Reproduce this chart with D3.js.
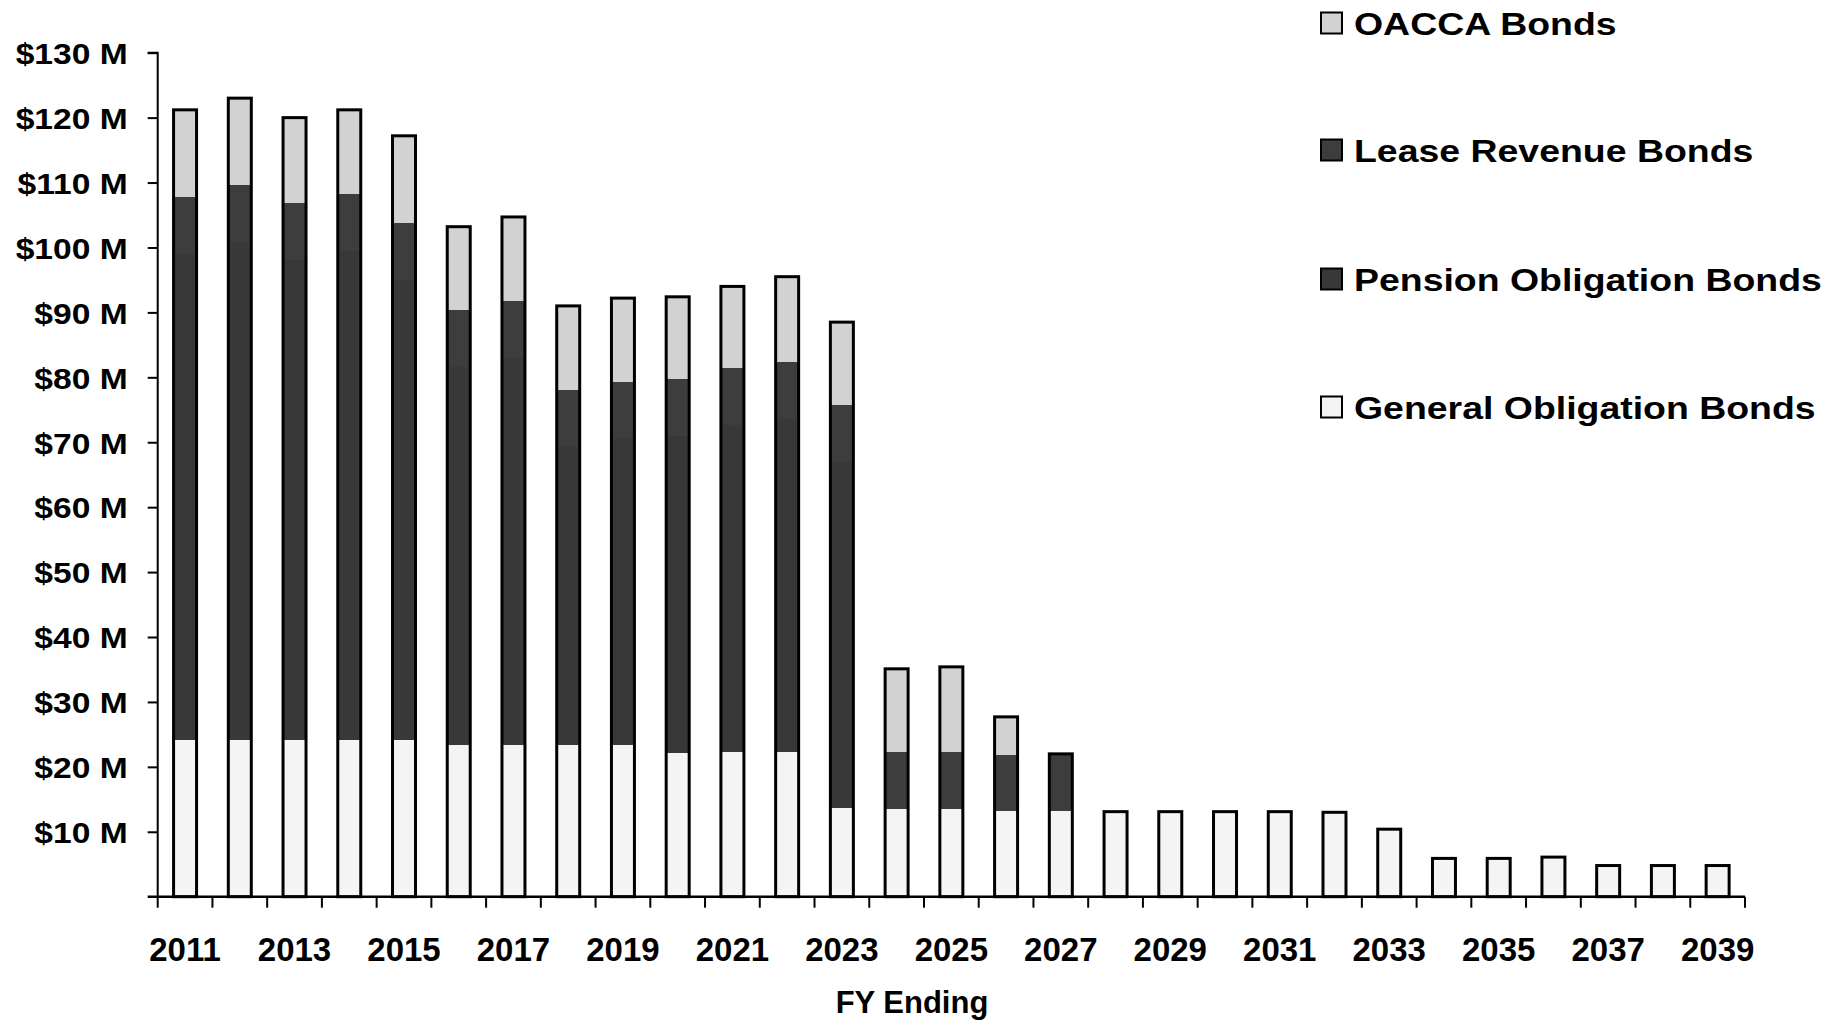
<!DOCTYPE html>
<html>
<head>
<meta charset="utf-8">
<script src="https://cdn.jsdelivr.net/npm/d3@7/dist/d3.min.js"></script>
<style>
  body { margin: 0; background: #fff; }
  svg { display: block; font-family: "Liberation Sans", Arial, sans-serif; font-weight: bold; }
</style>
</head>
<body>
<script>
// FY ending years
const years = [2011, 2012, 2013, 2014, 2015, 2016, 2017, 2018, 2019, 2020,
  2021, 2022, 2023, 2024, 2025, 2026, 2027, 2028, 2029, 2030,
  2031, 2032, 2033, 2034, 2035, 2036, 2037, 2038, 2039];

// debt service, $ millions
const generalObligation = [24.1, 24.1, 24.1, 24.1, 24.1, 23.4, 23.4, 23.4, 23.4, 22.1,
  22.3, 22.3, 13.6, 13.5, 13.5, 13.2, 13.2, 13.1, 13.1, 13.1,
  13.1, 13.0, 10.4, 5.9, 5.9, 6.1, 4.8, 4.8, 4.8];
const pensionObligation = [74.9, 76.7, 74.0, 75.4, 70.9, 58.2, 59.6, 45.8, 47.1, 48.8,
  50.3, 51.3, 53.3, 0, 0, 0, 0, 0, 0, 0,
  0, 0, 0, 0, 0, 0, 0, 0, 0];
const leaseRevenue = [8.8, 8.8, 8.8, 8.8, 8.8, 8.8, 8.8, 8.8, 8.8, 8.8,
  8.8, 8.8, 8.8, 8.8, 8.8, 8.6, 8.8, 0, 0, 0,
  0, 0, 0, 0, 0, 0, 0, 0, 0];
const oacca = [13.4, 13.4, 13.1, 12.9, 13.4, 12.8, 12.9, 13.0, 12.9, 12.7,
  12.6, 13.1, 12.8, 12.8, 13.1, 5.9, 0, 0, 0, 0,
  0, 0, 0, 0, 0, 0, 0, 0, 0];

// stack order bottom -> top, legend shows it top -> bottom
const seriesNames = ["General Obligation Bonds", "Pension Obligation Bonds", "Lease Revenue Bonds", "OACCA Bonds"];
const yTicks = [10, 20, 30, 40, 50, 60, 70, 80, 90, 100, 110, 120, 130];

const canvass = { width: 1840, height: 1022 };
const plot = { left: 157.7, right: 1745, top: 52.7, bottom: 896.7 };
const fills = {
  "General Obligation Bonds": "#f4f4f4",
  "Pension Obligation Bonds": "#383838",
  "Lease Revenue Bonds": "#3d3d3d",
  "OACCA Bonds": "#d2d2d2",
};

const rows = years.map((y, i) => ({
  year: y,
  "General Obligation Bonds": generalObligation[i],
  "Pension Obligation Bonds": pensionObligation[i],
  "Lease Revenue Bonds": leaseRevenue[i],
  "OACCA Bonds": oacca[i],
}));

const svg = d3.select("body").append("svg")
  .attr("width", canvass.width)
  .attr("height", canvass.height);

const xScale = d3.scaleBand()
  .domain(years)
  .range([plot.left, plot.right])
  .paddingInner(0.58)
  .paddingOuter(0.29);

const yScale = d3.scaleLinear()
  .domain([0, 130])
  .range([plot.bottom, plot.top]);

// bars
const stacked = d3.stack().keys(seriesNames)(rows);

svg.append("g")
  .attr("shape-rendering", "crispEdges")
  .selectAll("g")
  .data(stacked)
  .join("g")
  .attr("fill", (d) => fills[d.key])
  .selectAll("rect")
  .data((d) => d)
  .join("rect")
  .attr("x", (d) => xScale(d.data.year))
  .attr("y", (d) => yScale(d[1]))
  .attr("width", xScale.bandwidth())
  .attr("height", (d) => yScale(d[0]) - yScale(d[1]));

// outline round each whole bar
svg.append("g")
  .selectAll("rect")
  .data(rows)
  .join("rect")
  .attr("x", (d) => xScale(d.year))
  .attr("y", (d) => yScale(d3.sum(seriesNames, (k) => d[k])))
  .attr("width", xScale.bandwidth())
  .attr("height", (d) => plot.bottom - yScale(d3.sum(seriesNames, (k) => d[k])))
  .attr("fill", "none")
  .attr("stroke", "#000")
  .attr("stroke-width", 3);

// y axis
const yAxis = svg.append("g")
  .attr("transform", `translate(${plot.left},0)`)
  .call(d3.axisLeft(yScale).tickValues(yTicks).tickSize(10).tickPadding(20)
    .tickFormat((d) => `$${d} M`));
yAxis.select(".domain").attr("stroke-width", 2).attr("d", `M-10,${plot.top}H0V${plot.bottom}`);
yAxis.selectAll(".tick line").attr("stroke-width", 2);
yAxis.selectAll(".tick text")
  .attr("font-size", 30)
  .attr("font-weight", "bold")
  .attr("font-family", "Liberation Sans, Arial, sans-serif")
  .attr("fill", "#000")
  .attr("x", -26.8)
  .attr("dy", "0.36em")
  .attr("transform", "scale(1.12,1)");

// x axis: baseline, category boundary ticks, labels every other year
const gap = (xScale.step() - xScale.bandwidth()) / 2;
const boundaries = years.map((y) => xScale(y) - gap).concat([plot.right]);

svg.append("line")
  .attr("x1", plot.left - 10).attr("x2", plot.right)
  .attr("y1", plot.bottom).attr("y2", plot.bottom)
  .attr("stroke", "#000").attr("stroke-width", 2.5);

svg.append("g")
  .selectAll("line")
  .data(boundaries)
  .join("line")
  .attr("x1", (d) => d).attr("x2", (d) => d)
  .attr("y1", plot.bottom).attr("y2", plot.bottom + 11)
  .attr("stroke", "#000").attr("stroke-width", 2);

svg.append("g")
  .selectAll("text")
  .data(years.filter((y, i) => i % 2 === 0))
  .join("text")
  .attr("x", (d) => xScale(d) + xScale.bandwidth() / 2)
  .attr("y", 961)
  .attr("text-anchor", "middle")
  .attr("font-size", 33)
  .text((d) => d);

svg.append("text")
  .attr("x", 912)
  .attr("y", 1013)
  .attr("text-anchor", "middle")
  .attr("font-size", 31)
  .text("FY Ending");

// legend
const legendY = [23, 150, 279, 407];
const legend = svg.append("g")
  .selectAll("g")
  .data(seriesNames.slice().reverse())
  .join("g")
  .attr("transform", (d, i) => `translate(1321,${legendY[i]})`);

legend.append("rect")
  .attr("x", 0).attr("y", -10.5)
  .attr("width", 21).attr("height", 21)
  .attr("fill", (d) => fills[d])
  .attr("stroke", "#000")
  .attr("stroke-width", 2);

legend.append("text")
  .attr("transform", "translate(33,0) scale(1.17,1)")
  .attr("dy", "0.36em")
  .attr("font-size", 32)
  .text((d) => d);
</script>
</body>
</html>
